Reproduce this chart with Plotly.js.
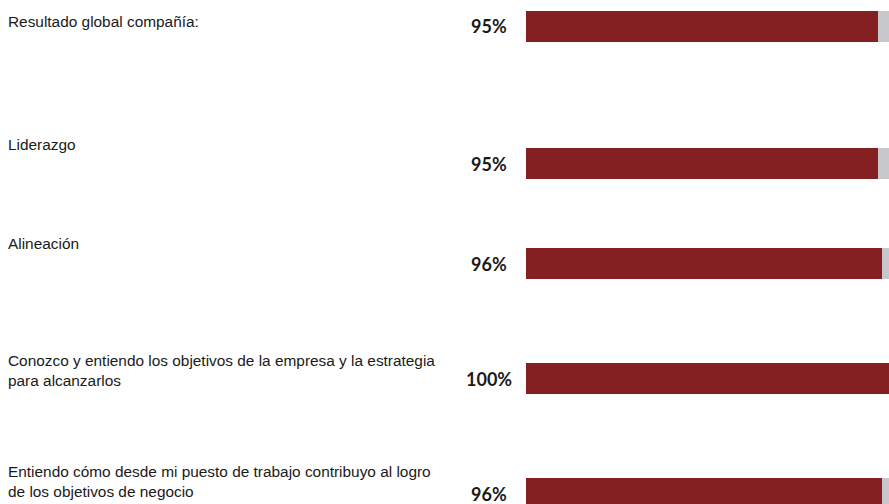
<!DOCTYPE html>
<html>
<head>
<meta charset="utf-8">
<script src="https://cdn.plot.ly/plotly-3.0.1.min.js"></script>
<style>
  html, body { margin: 0; padding: 0; background: #ffffff; }
  #chart { width: 889px; height: 504px; }
</style>
</head>
<body>
<div id="chart"></div>
<script>
// ---- data ----
const categories = [
  "Resultado global compañía:",
  "Liderazgo",
  "Alineación",
  "Conozco y entiendo los objetivos de la empresa y la estrategia<br>para alcanzarlos",
  "Entiendo cómo desde mi puesto de trabajo contribuyo al logro<br>de los objetivos de negocio"
];
const values = [95, 95, 96, 100, 96];
const totals = [100, 100, 100, 100, 100];

// ---- layout helpers (positions / styles, not data) ----
const rowCenter = [26, 163.5, 263.5, 378.5, 493.5];   // y-axis units = pixels from top
const labelShift = [5, 19.5, 20.5, 8, 12];             // left label raised above bar centre
const RED = "#841f22";
const GREY = "#c6c8cc";

const remainder = values.map((v, i) => totals[i] - v);

const traces = [
  {
    type: "bar", orientation: "h",
    x: values, y: rowCenter, width: 31,
    marker: { color: RED, line: { width: 0 } },
    hoverinfo: "skip", showlegend: false
  },
  {
    type: "bar", orientation: "h",
    x: remainder, y: rowCenter, width: 31,
    marker: { color: GREY, line: { width: 0 } },
    hoverinfo: "skip", showlegend: false
  }
];

const annotations = [];
categories.forEach((c, i) => {
  annotations.push({
    xref: "paper", yref: "y",
    x: 6 / 889, y: rowCenter[i], yshift: labelShift[i],
    xanchor: "left", yanchor: "middle", align: "left",
    text: c, showarrow: false,
    font: { family: "Liberation Sans, Arial, sans-serif", size: 15.4, color: "#1a1a1a" }
  });
  annotations.push({
    xref: "paper", yref: "y",
    x: 489 / 889, y: rowCenter[i],
    xanchor: "center", yanchor: "middle",
    text: values[i] + "%", showarrow: false,
    font: { family: "Lato, sans-serif", size: 18, color: "#1a1a1a", weight: 700 }
  });
});

const layout = {
  width: 889, height: 504,
  margin: { l: 0, r: 0, t: 0, b: 0, pad: 0 },
  paper_bgcolor: "#ffffff", plot_bgcolor: "#ffffff",
  barmode: "stack",
  xaxis: {
    domain: [526 / 889, 1], range: [0, 98],
    showgrid: false, zeroline: false, showticklabels: false, showline: false, ticks: ""
  },
  yaxis: {
    range: [504, 0],
    showgrid: false, zeroline: false, showticklabels: false, showline: false, ticks: ""
  },
  annotations: annotations
};

Plotly.newPlot("chart", traces, layout, { displayModeBar: false, staticPlot: true });
</script>
</body>
</html>
